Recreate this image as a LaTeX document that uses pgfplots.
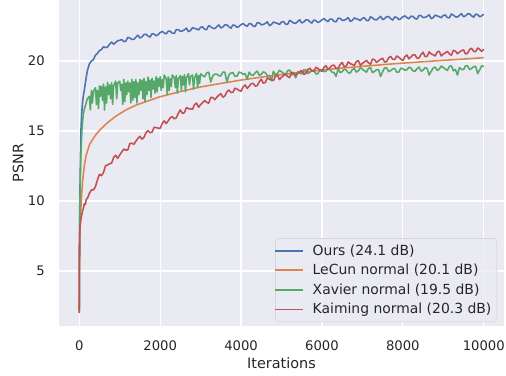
\documentclass[border=0pt]{standalone}
\usepackage{fontspec}
\setmainfont{DejaVu Sans}
\usepackage{pgfplots}
\pgfplotsset{compat=1.18}
\definecolor{bgcol}{HTML}{EAEAF2}
\definecolor{txt}{HTML}{262626}
\definecolor{cblue}{HTML}{4C72B0}
\definecolor{corange}{HTML}{DD8452}
\definecolor{cgreen}{HTML}{55A868}
\definecolor{cred}{HTML}{C44E52}
\definecolor{legedge}{HTML}{CCCCCC}
\pgfplotsset{
  mylegimg/.style={legend image code/.code={%
    \draw[overlay, line width=1.5pt, draw=#1] (0pt,0pt) -- (23pt,0pt);
    \path[draw=none] (2.5pt,0pt) -- (29.1pt,0pt);}},
}
\begin{document}
\begin{tikzpicture}
\begin{axis}[
  at={(0,0)}, anchor=south west,
  scale only axis, width=370.8pt, height=271.7pt,
  xmin=-500, xmax=10500, ymin=1.07, ymax=24.36,
  axis background/.style={fill=bgcol},
  axis line style={draw=none},
  major tick length=0pt, tick style={draw=none},
  grid=major, grid style={white, line width=1pt},
  xtick={0,2000,4000,6000,8000,10000},
  ytick={5,10,15,20},
  scaled x ticks=false,
  /pgf/number format/1000 sep={},
  /pgf/number format/assume math mode=true,
  ticklabel style={font=\fontsize{11}{13}\selectfont, text=txt},
  xticklabel style={anchor=base, yshift=-20pt, inner sep=0pt},
  yticklabel style={anchor=east, xshift=-11.7pt, inner sep=0pt},
  xlabel={Iterations}, ylabel={PSNR},
  label style={font=\fontsize{12}{14}\selectfont, text=txt},
  xlabel style={at={(axis description cs:0.5,0)}, anchor=base, yshift=-35pt, inner sep=0pt},
  ylabel style={at={(axis description cs:0,0.5)}, anchor=base, yshift=29.8pt, inner sep=0pt},
  legend cell align=left,
  legend style={at={(1,0)}, anchor=south east, xshift=-5.8pt, yshift=3.3pt,
    fill=bgcol, fill opacity=0.8, text opacity=1, draw=legedge, rounded corners=2.5pt,
    font=\fontsize{11.6}{13}\selectfont, text=txt,
    inner xsep=2.5pt, inner ysep=3.05pt, row sep=2.05pt},
  every axis plot/.append style={line width=1.3pt, line join=round},
]
% Ours
\addplot[draw=cblue, mylegimg=cblue] coordinates {
(0,2.5)(5,6)(10,9)(20,11.5)(30,13.2)(40,15.0)(60,16.2)(80,17.0)(100,17.5)(130,18.0)(170,18.8)
(200,19.3)(250,19.8)(300,20.00)(350,20.1)(400,20.42)(450,20.55)(500,20.75)(550,20.82)(600,21.03)(650,20.95)(700,21.01)(750,21.2)(800,21.35)(850,21.2)(900,21.33)(950,21.45)
(1000,21.48)(1050,21.54)(1100,21.39)(1150,21.40)(1200,21.70)(1250,21.64)(1300,21.55)(1350,21.55)(1400,21.70)(1450,21.85)(1500,21.64)(1550,21.73)(1600,21.89)(1650,21.91)(1700,21.79)(1750,21.71)(1800,21.95)(1850,21.93)(1900,21.80)(1950,21.89)
(2000,22.03)(2050,22.12)(2100,22.01)(2150,21.94)(2200,22.13)(2250,22.13)(2300,21.99)(2350,21.97)(2400,22.25)(2450,22.24)(2500,22.12)(2550,22.15)(2600,22.23)(2650,22.35)(2700,22.10)(2750,22.18)(2800,22.38)(2850,22.33)(2900,22.29)(2950,22.22)
(3000,22.41)(3050,22.44)(3100,22.26)(3150,22.25)(3200,22.53)(3250,22.45)(3300,22.34)(3350,22.32)(3400,22.45)(3450,22.58)(3500,22.36)(3550,22.43)(3600,22.58)(3650,22.58)(3700,22.45)(3750,22.35)(3800,22.58)(3850,22.54)(3900,22.40)(3950,22.47)
(4000,22.60)(4050,22.68)(4100,22.56)(4150,22.48)(4200,22.67)(4250,22.66)(4300,22.50)(4350,22.47)(4400,22.74)(4450,22.72)(4500,22.59)(4550,22.61)(4600,22.69)(4650,22.80)(4700,22.53)(4750,22.60)(4800,22.79)(4850,22.73)(4900,22.69)(4950,22.61)
(5000,22.79)(5050,22.82)(5100,22.63)(5150,22.62)(5200,22.90)(5250,22.82)(5300,22.71)(5350,22.69)(5400,22.82)(5450,22.95)(5500,22.72)(5550,22.79)(5600,22.94)(5650,22.94)(5700,22.81)(5750,22.71)(5800,22.93)(5850,22.89)(5900,22.75)(5950,22.82)
(6000,22.95)(6050,23.03)(6100,22.90)(6150,22.82)(6200,23.00)(6250,22.99)(6300,22.83)(6350,22.80)(6400,23.06)(6450,23.04)(6500,22.90)(6550,22.92)(6600,22.99)(6650,23.10)(6700,22.83)(6750,22.90)(6800,23.08)(6850,23.02)(6900,22.97)(6950,22.89)
(7000,23.06)(7050,23.09)(7100,22.90)(7150,22.89)(7200,23.16)(7250,23.08)(7300,22.96)(7350,22.94)(7400,23.06)(7450,23.19)(7500,22.96)(7550,23.03)(7600,23.17)(7650,23.17)(7700,23.03)(7750,22.93)(7800,23.15)(7850,23.11)(7900,22.96)(7950,23.03)
(8000,23.15)(8050,23.23)(8100,23.10)(8150,23.02)(8200,23.20)(8250,23.19)(8300,23.03)(8350,23.00)(8400,23.26)(8450,23.24)(8500,23.10)(8550,23.12)(8600,23.19)(8650,23.30)(8700,23.03)(8750,23.10)(8800,23.28)(8850,23.22)(8900,23.17)(8950,23.09)
(9000,23.26)(9050,23.29)(9100,23.10)(9150,23.09)(9200,23.36)(9250,23.28)(9300,23.16)(9350,23.14)(9400,23.26)(9450,23.39)(9500,23.16)(9550,23.23)(9600,23.37)(9650,23.37)(9700,23.23)(9750,23.13)(9800,23.35)(9850,23.31)(9900,23.16)(9950,23.23)
(10000,23.35)
};
\addlegendentry{Ours (24.1 dB)}
% LeCun
\addplot[draw=corange, mylegimg=corange] coordinates {
(0,2.2)(5,5.0)(10,6.5)(20,8.0)(30,8.9)(40,9.5)(60,10.5)(80,11.3)(100,11.9)(130,12.6)(165,13.2)(200,13.55)
(250,14.0)(330,14.4)(400,14.7)(535,15.15)(700,15.6)(900,16.05)(1150,16.5)(1400,16.85)(1750,17.2)(2000,17.45)
(2470,17.8)(3000,18.15)(3500,18.4)(4000,18.64)(4500,18.85)(5000,19.03)(5500,19.2)(6000,19.36)(6500,19.5)
(7000,19.62)(7500,19.74)(8000,19.85)(8500,19.95)(9000,20.05)(9500,20.14)(10000,20.24)
};
\addlegendentry{LeCun normal (20.1 dB)}
% Xavier
\addplot[draw=cgreen, mylegimg=cgreen] coordinates {
(0,2.2)(5,6)(10,8.5)(20,10.5)(30,12)(40,13.2)(50,14)(65,15)(80,15.6)(100,16.2)(130,16.6)(160,16.9)(200,17.3)
(250,17.48)(275,16.5)(300,17.89)(325,17.0)(350,17.83)(400,18.09)(425,16.9)(450,17.91)(475,16.6)(500,18.22)(525,17.5)(550,18.19)(575,17.2)
(600,18.35)(625,16.5)(650,18.16)(675,17.0)(700,18.48)(725,17.6)(750,18.29)(775,17.3)(800,18.44)(825,16.9)(850,18.24)(900,18.57)(925,17.3)(950,18.43)
(1000,18.56)(1025,17.9)(1050,18.35)(1075,16.9)(1100,18.69)(1125,17.1)(1150,18.43)(1175,17.6)(1200,18.57)(1225,17.8)(1250,18.43)(1275,17.0)(1300,18.70)(1325,17.2)
(1350,18.53)(1375,17.4)(1400,18.68)(1425,17.0)(1450,18.44)(1475,17.6)(1500,18.69)(1525,17.9)(1550,18.63)(1575,17.3)(1600,18.76)(1625,17.1)(1650,18.54)(1675,17.6)(1700,18.85)(1725,17.9)
(1750,18.64)(1775,17.4)(1800,18.77)(1825,18.0)(1850,18.57)(1875,17.7)(1900,18.89)(1925,17.8)(1950,18.75)(1975,18.2)(2000,18.88)(2025,17.9)(2050,18.67)(2075,18.1)(2100,19.00)(2150,18.74)
(2175,17.6)(2200,18.87)(2225,17.9)(2250,18.73)(2275,18.2)(2300,19.00)(2350,18.82)(2375,18.1)(2400,18.97)(2425,17.7)(2450,18.72)(2500,18.97)(2525,17.9)(2550,18.90)(2575,18.3)
(2600,19.02)(2625,17.8)(2650,18.80)(2700,19.10)(2725,18.3)(2750,18.88)(2800,19.00)(2825,18.0)(2850,18.79)(2900,19.11)(2925,18.1)(2950,18.96)(2975,18.4)(3000,19.08)
(3050,18.97)(3100,18.87)(3150,19.15)(3200,19.20)(3250,18.5)(3300,18.94)(3350,19.06)(3400,19.07)(3450,18.96)(3500,18.93)(3550,19.21)(3600,19.20)(3650,18.5)(3700,19.02)(3750,19.15)(3800,19.17)(3850,18.91)(3900,18.92)(3950,19.21)
(4000,19.17)(4050,19.05)(4100,19.09)(4150,18.7)(4200,19.21)(4250,19.01)(4300,18.98)(4350,19.16)(4400,19.28)(4450,18.98)(4500,19.05)(4550,19.23)(4600,19.17)(4650,18.97)(4700,18.95)(4750,18.6)(4800,19.27)(4850,19.02)(4900,19.11)(4950,19.33)
(5000,19.23)(5050,19.12)(5100,19.02)(5150,19.30)(5200,19.36)(5250,19.00)(5300,19.10)(5350,18.8)(5400,19.23)(5450,19.12)(5500,19.09)(5550,19.37)(5600,19.37)(5650,19.11)(5700,19.19)(5750,19.32)(5800,19.34)(5850,19.08)(5900,19.10)(5950,19.39)
(6000,19.35)(6050,19.24)(6100,19.28)(6150,19.45)(6200,19.39)(6250,19.20)(6300,19.17)(6350,18.9)(6400,19.46)(6450,19.17)(6500,19.24)(6550,19.42)(6600,19.36)(6650,19.16)(6700,19.14)(6750,19.39)(6800,19.46)(6850,19.21)(6900,19.30)(6950,19.52)
(7000,19.42)(7050,19.31)(7100,19.20)(7150,19.48)(7200,19.53)(7250,19.17)(7300,19.26)(7350,19.38)(7400,19.39)(7450,18.9)(7500,19.24)(7550,19.51)(7600,19.50)(7650,19.24)(7700,19.32)(7750,19.44)(7800,19.46)(7850,19.20)(7900,19.21)(7950,19.49)
(8000,19.45)(8050,19.34)(8100,19.38)(8150,19.56)(8200,19.50)(8250,19.30)(8300,19.27)(8350,19.45)(8400,19.57)(8450,19.28)(8500,19.35)(8550,19.53)(8600,19.47)(8650,19.0)(8700,19.26)(8750,19.50)(8800,19.57)(8850,19.33)(8900,19.42)(8950,19.64)
(9000,19.54)(9050,19.43)(9100,19.33)(9150,19.61)(9200,19.66)(9250,19.30)(9300,19.40)(9350,19.0)(9400,19.53)(9450,19.41)(9500,19.38)(9550,19.66)(9600,19.65)(9650,19.39)(9700,19.47)(9750,19.60)(9800,19.62)(9850,19.1)(9900,19.37)(9950,19.66)
(10000,19.62)
};
\addlegendentry{Xavier normal (19.5 dB)}
% Kaiming
\addplot[draw=cred, mylegimg=cred] coordinates {
(0,2.0)(3,4.5)(6,6.5)(10,7.6)(20,8.2)(40,8.7)(60,9.0)(80,9.3)(100,9.45)(125,9.8)(150,9.75)(175,10.15)
(200,10.17)(250,10.55)(300,10.79)(350,10.79)(400,11.03)(450,11.51)(500,11.91)(550,11.81)(600,12.04)(650,12.53)(700,12.58)(750,12.66)(800,12.71)(850,13.11)(900,13.27)(950,13.04)
(1000,13.29)(1050,13.50)(1100,13.71)(1150,13.64)(1200,13.65)(1250,14.10)(1300,14.13)(1350,14.05)(1400,14.28)(1450,14.47)(1500,14.62)(1550,14.42)(1600,14.55)(1650,14.89)(1700,15.03)(1750,14.88)(1800,14.92)(1850,15.26)(1900,15.25)(1950,15.20)
(2000,15.19)(2050,15.53)(2100,15.73)(2150,15.53)(2200,15.73)(2250,15.95)(2300,16.03)(2350,15.87)(2400,15.95)(2450,16.27)(2500,16.51)(2550,16.25)(2600,16.32)(2650,16.68)(2700,16.59)(2750,16.59)(2800,16.55)(2850,16.89)(2900,16.99)(2950,16.70)
(3000,16.89)(3050,17.03)(3100,17.18)(3150,17.04)(3200,16.99)(3250,17.40)(3300,17.39)(3350,17.24)(3400,17.41)(3450,17.56)(3500,17.67)(3550,17.42)(3600,17.50)(3650,17.81)(3700,17.93)(3750,17.75)(3800,17.77)(3850,18.06)(3900,18.00)(3950,17.90)
(4000,17.84)(4050,18.14)(4100,18.29)(4150,18.05)(4200,18.20)(4250,18.38)(4300,18.41)(4350,18.21)(4400,18.24)(4450,18.52)(4500,18.71)(4550,18.42)(4600,18.47)(4650,18.80)(4700,18.69)(4750,18.66)(4800,18.60)(4850,18.91)(4900,18.99)(4950,18.67)
(5000,18.84)(5050,18.95)(5100,19.07)(5150,18.90)(5200,18.82)(5250,19.20)(5300,19.16)(5350,18.98)(5400,19.12)(5450,19.24)(5500,19.32)(5550,19.05)(5600,19.10)(5650,19.39)(5700,19.49)(5750,19.29)(5800,19.28)(5850,19.55)(5900,19.47)(5950,19.35)
(6000,19.26)(6050,19.54)(6100,19.67)(6150,19.40)(6200,19.53)(6250,19.69)(6300,19.70)(6350,19.47)(6400,19.48)(6450,19.74)(6500,19.91)(6550,19.60)(6600,19.63)(6650,19.94)(6700,19.81)(6750,19.76)(6800,19.68)(6850,19.97)(6900,20.03)(6950,19.69)
(7000,19.84)(7050,19.94)(7100,20.05)(7150,19.87)(7200,19.77)(7250,20.14)(7300,20.09)(7350,19.90)(7400,20.02)(7450,20.13)(7500,20.20)(7550,19.92)(7600,19.96)(7650,20.24)(7700,20.33)(7750,20.12)(7800,20.10)(7850,20.36)(7900,20.27)(7950,20.14)
(8000,20.04)(8050,20.31)(8100,20.43)(8150,20.16)(8200,20.29)(8250,20.44)(8300,20.44)(8350,20.21)(8400,20.22)(8450,20.47)(8500,20.63)(8550,20.32)(8600,20.34)(8650,20.65)(8700,20.51)(8750,20.45)(8800,20.36)(8850,20.65)(8900,20.70)(8950,20.36)
(9000,20.50)(9050,20.59)(9100,20.69)(9150,20.51)(9200,20.41)(9250,20.77)(9300,20.71)(9350,20.52)(9400,20.64)(9450,20.74)(9500,20.80)(9550,20.51)(9600,20.55)(9650,20.83)(9700,20.91)(9750,20.69)(9800,20.67)(9850,20.93)(9900,20.83)(9950,20.69)
(10000,20.85)
};
\addlegendentry{Kaiming normal (20.3 dB)}
\end{axis}
\pgfresetboundingbox
\useasboundingbox (-49.2pt,-41.4pt) rectangle (372.5pt,271.7pt);
\end{tikzpicture}
\end{document}
